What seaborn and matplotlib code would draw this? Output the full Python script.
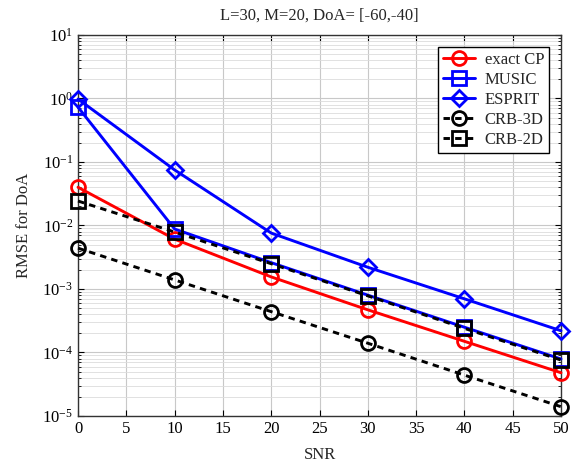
import matplotlib
matplotlib.use("Agg")
import matplotlib.pyplot as plt
import seaborn as sns
import pandas as pd
import numpy as np
from matplotlib.ticker import LogLocator, MultipleLocator, NullFormatter

snr = [0, 10, 20, 30, 40, 50]
exact_cp = [0.040, 0.0061, 0.00155, 4.7e-4, 1.5e-4, 4.8e-5]
music = [0.73, 0.0088, 0.0026, 8.0e-4, 2.5e-4, 7.9e-5]
esprit = [0.98, 0.075, 0.0076, 0.0022, 7.0e-4, 2.2e-4]
crb_3d = [0.0044, 0.00139, 4.4e-4, 1.4e-4, 4.4e-5, 1.4e-5]
crb_2d = [0.0243, 0.0079, 0.0025, 7.8e-4, 2.4e-4, 7.6e-5]

names = ["exact CP", "MUSIC", "ESPRIT", "CRB-3D", "CRB-2D"]
series = [exact_cp, music, esprit, crb_3d, crb_2d]

sns.set_style("ticks")
plt.rcParams["font.family"] = ["Liberation Serif", "DejaVu Serif"]
plt.rcParams["mathtext.fontset"] = "stix"

fig = plt.figure(figsize=(5.77, 4.66), dpi=100)
ax = fig.add_axes([0.1352, 0.1073, 0.9723 - 0.1352, 0.9249 - 0.1073])

colors = ["#ff0000", "#0000ff", "#0000ff", "#000000", "#000000"]
markers = ["o", "s", "D", "o", "s"]
msizes = [10, 10, 8.5, 10, 10]
dashed = [False, False, False, True, True]

for name, vals, c, m, ms, d in zip(names, series, colors, markers, msizes, dashed):
    df = pd.DataFrame({"SNR": snr, "RMSE": vals})
    sns.lineplot(data=df, x="SNR", y="RMSE", ax=ax, color=c, marker=m,
                 markersize=ms, markerfacecolor="none", markeredgecolor=c,
                 markeredgewidth=2.0, linewidth=2.1, label=name, clip_on=False,
                 linestyle=(0, (2.2, 1.8)) if d else "-", zorder=3)

ax.set_yscale("log")
ax.set_xlim(0, 50)
ax.set_ylim(1e-5, 1e1)
ax.xaxis.set_major_locator(MultipleLocator(5))
ax.yaxis.set_major_locator(LogLocator(base=10, numticks=10))
ax.yaxis.set_minor_locator(LogLocator(base=10, subs=np.arange(2, 10), numticks=100))
ax.yaxis.set_minor_formatter(NullFormatter())
ax.grid(True, which="major", color="#c8c8c8", linewidth=0.8)
ax.grid(True, which="minor", axis="y", color="#dcdcdc", linewidth=0.6)
ax.tick_params(which="both", direction="in", top=True, right=True, labelsize=12, colors="black")
ax.tick_params(which="major", length=4)
ax.tick_params(which="minor", length=2)
for s in ax.spines.values():
    s.set_color("#333333")
    s.set_linewidth(1.0)

ax.set_xlabel("SNR", fontsize=12, labelpad=7)
ax.set_ylabel("RMSE for DoA", fontsize=12, labelpad=7)
ax.set_title("L=30, M=20, DoA= [-60,-40]", fontsize=12, pad=11)

leg = ax.legend(loc="upper right", fontsize=12, frameon=True, fancybox=False,
                borderpad=0.3, labelspacing=0.25, handlelength=1.9, handletextpad=0.6,
                borderaxespad=0.7)
leg.get_frame().set_edgecolor("black")
leg.get_frame().set_linewidth(1.0)
leg.get_frame().set_alpha(1)
leg.set_zorder(5)

fig.savefig("out.png", dpi=100)
